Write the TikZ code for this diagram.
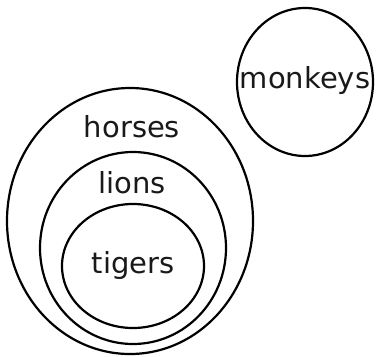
\documentclass[tikz,border=0pt]{standalone}
\usepackage{fontspec}
\setmainfont{DejaVu Sans}
\begin{document}
\begin{tikzpicture}[x=1pt,y=-1pt,
  setline/.style={draw=black,line width=2.2pt},
  lbl/.style={font=\fontsize{29}{32}\selectfont,text=black!90}]
\useasboundingbox (0,0) rectangle (379,356);
\draw[setline] (130,221) ellipse [x radius=123, y radius=133];
\draw[setline] (133,248) ellipse [x radius=93, y radius=96];
\draw[setline] (133,266) ellipse [x radius=71, y radius=62];
\draw[setline] (305,82) ellipse [x radius=68, y radius=74];
\node[lbl] (horses) at (132,127) {horses};
\node[lbl] (lions) at (132,183) {lions};
\node[lbl] (tigers) at (133,265) {tigers};
\node[lbl] (monkeys) at (305,80) {monkeys};
\end{tikzpicture}
\end{document}
